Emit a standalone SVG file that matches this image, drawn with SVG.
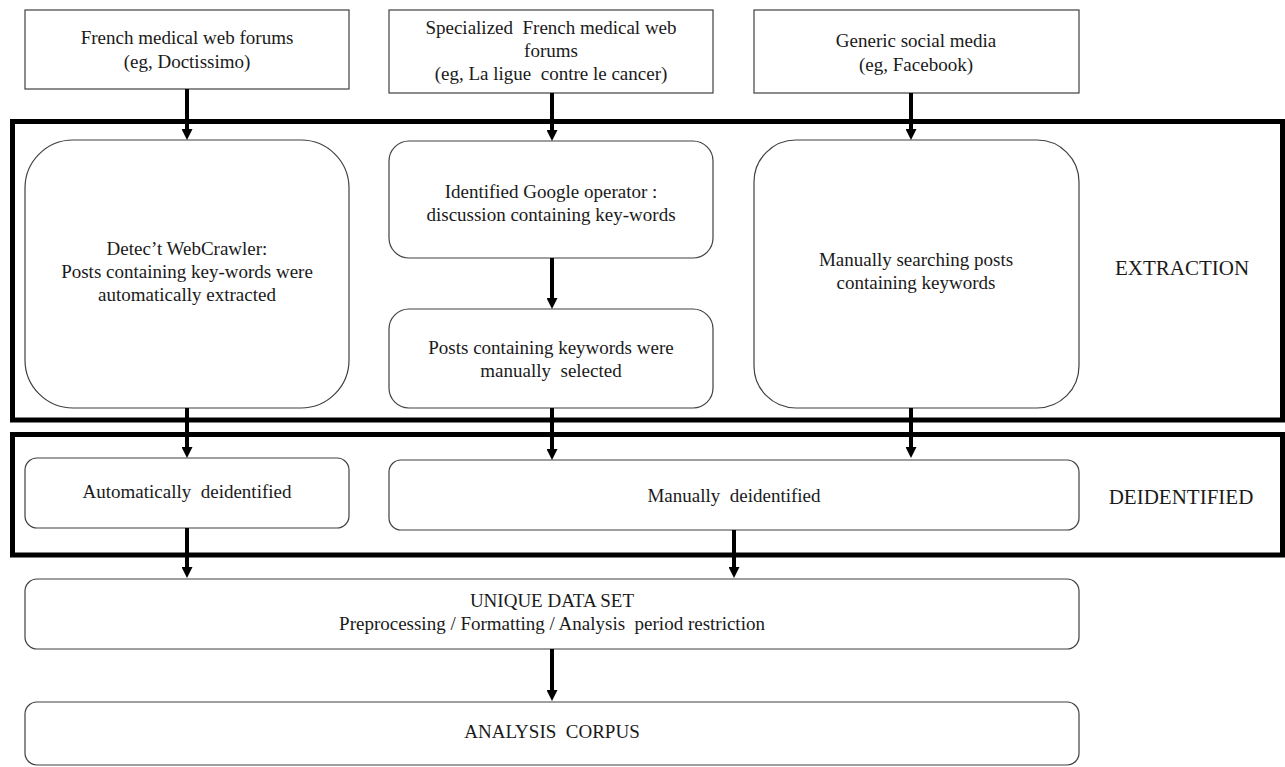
<svg xmlns="http://www.w3.org/2000/svg" width="1285" height="767" viewBox="0 0 1285 767">
<style>
  .box { fill: #ffffff; stroke: #404040; stroke-width: 1.2; }
  .frame { fill: none; stroke: #000000; stroke-width: 5; }
  .t { font-family: "Liberation Serif", "Times New Roman", serif; font-size: 19px; fill: #1a1a1a; text-anchor: middle; white-space: pre; }
  .lbl { font-family: "Liberation Serif", "Times New Roman", serif; font-size: 21px; fill: #1a1a1a; text-anchor: middle; }
  .conn { stroke: #000000; stroke-width: 4; fill: none; }
</style>
<defs>
  <marker id="ah" markerUnits="userSpaceOnUse" markerWidth="11" markerHeight="11" refX="0" refY="5.5" orient="auto" viewBox="0 0 11 11">
    <path d="M0,0 L11,5.5 L0,11 Z" fill="#000000"/>
  </marker>
</defs>
<rect width="1285" height="767" fill="#ffffff"/>

<g id="frames">
  <rect id="frame-extraction" class="frame" x="12.5" y="121.5" width="1270" height="298.5"/>
  <rect id="frame-deidentified" class="frame" x="12.5" y="434.5" width="1270" height="120.5"/>
</g>

<g id="source1">
  <rect class="box" x="25" y="10" width="324" height="79"/>
  <text class="t" x="187" y="44">French medical web forums</text>
  <text class="t" x="187" y="68">(eg, Doctissimo)</text>
</g>
<g id="source2">
  <rect class="box" x="389" y="10" width="324" height="83"/>
  <text class="t" x="551" y="34" xml:space="preserve">Specialized  French medical web</text>
  <text class="t" x="551" y="57">forums</text>
  <text class="t" x="551" y="80" xml:space="preserve">(eg, La ligue  contre le cancer)</text>
</g>
<g id="source3">
  <rect class="box" x="754" y="10" width="325" height="83"/>
  <text class="t" x="916" y="47">Generic social media</text>
  <text class="t" x="916" y="71">(eg, Facebook)</text>
</g>

<g id="webcrawler">
  <rect class="box" x="25" y="140" width="324" height="268" rx="48" ry="48"/>
  <text class="t" x="187" y="255">Detec’t WebCrawler:</text>
  <text class="t" x="187" y="278">Posts containing key-words were</text>
  <text class="t" x="187" y="301">automatically extracted</text>
</g>
<g id="google-operator">
  <rect class="box" x="389" y="141" width="324" height="117" rx="20" ry="20"/>
  <text class="t" x="551" y="198">Identified Google operator :</text>
  <text class="t" x="551" y="221">discussion containing key-words</text>
</g>
<g id="manually-selected">
  <rect class="box" x="389" y="309" width="324" height="99" rx="20" ry="20"/>
  <text class="t" x="551" y="354">Posts containing keywords were</text>
  <text class="t" x="551" y="377" xml:space="preserve">manually  selected</text>
</g>
<g id="manually-searching">
  <rect class="box" x="754" y="140" width="325" height="268" rx="42" ry="42"/>
  <text class="t" x="916" y="266">Manually searching posts</text>
  <text class="t" x="916" y="289">containing keywords</text>
</g>
<g id="label-extraction">
  <text class="lbl" x="1182" y="275">EXTRACTION</text>
</g>

<g id="auto-deid">
  <rect class="box" x="25" y="458" width="324" height="70" rx="12" ry="12"/>
  <text class="t" x="187" y="498" xml:space="preserve">Automatically  deidentified</text>
</g>
<g id="manual-deid">
  <rect class="box" x="389" y="460" width="690" height="70" rx="12" ry="12"/>
  <text class="t" x="734" y="502" xml:space="preserve">Manually  deidentified</text>
</g>
<g id="label-deidentified">
  <text class="lbl" x="1181" y="504">DEIDENTIFIED</text>
</g>

<g id="unique-data-set">
  <rect class="box" x="25" y="579" width="1054" height="70" rx="12" ry="12"/>
  <text class="t" x="552" y="607">UNIQUE DATA SET</text>
  <text class="t" x="552" y="630" xml:space="preserve">Preprocessing / Formatting / Analysis  period restriction</text>
</g>
<g id="analysis-corpus">
  <rect class="box" x="25" y="702" width="1054" height="63" rx="12" ry="12"/>
  <text class="t" x="552" y="738" xml:space="preserve">ANALYSIS  CORPUS</text>
</g>

<g id="connectors">
  <line class="conn" x1="187" y1="89" x2="187" y2="129" marker-end="url(#ah)"/>
  <line class="conn" x1="552" y1="93" x2="552" y2="130" marker-end="url(#ah)"/>
  <line class="conn" x1="911" y1="93" x2="911" y2="129" marker-end="url(#ah)"/>
  <line class="conn" x1="552" y1="258" x2="552" y2="298" marker-end="url(#ah)"/>
  <line class="conn" x1="187" y1="408" x2="187" y2="447" marker-end="url(#ah)"/>
  <line class="conn" x1="552" y1="408" x2="552" y2="449" marker-end="url(#ah)"/>
  <line class="conn" x1="911" y1="408" x2="911" y2="447" marker-end="url(#ah)"/>
  <line class="conn" x1="187" y1="528" x2="187" y2="567" marker-end="url(#ah)"/>
  <line class="conn" x1="734" y1="530" x2="734" y2="567" marker-end="url(#ah)"/>
  <line class="conn" x1="552" y1="649" x2="552" y2="690" marker-end="url(#ah)"/>
</g>
</svg>
